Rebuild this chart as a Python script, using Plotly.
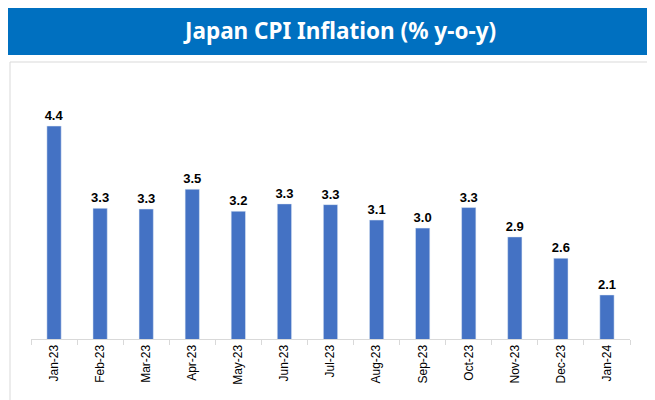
import plotly.graph_objects as go

months = ["Jan-23", "Feb-23", "Mar-23", "Apr-23", "May-23", "Jun-23", "Jul-23",
          "Aug-23", "Sep-23", "Oct-23", "Nov-23", "Dec-23", "Jan-24"]
cpi = [4.4, 3.28, 3.27, 3.54, 3.24, 3.34, 3.33, 3.12, 3.01, 3.29, 2.89, 2.60, 2.1]

# страница сдвигает рисунок на 8 px (отступ body), поэтому фигура чуть меньше окна
OFF = 8
W, H = 655 - OFF, 400 - OFF
ML, MR, MT, MB = 31 - OFF, 25, 82 - OFF, 61
pw, ph = W - ML - MR, H - MT - MB


def px_x(x):
    # экранный пиксель -> координата paper
    return (x - OFF - ML) / pw


def px_y(y):
    return (H - MB - (y - OFF)) / ph


fig = go.Figure()

fig.add_trace(go.Bar(
    x=months, y=cpi,
    marker_color="#4472C4",
    width=0.31,
    text=[f"{v:.1f}" for v in cpi],
    textposition="outside",
    constraintext="none",
    textfont=dict(family="Liberation Sans", size=13, color="#000000", weight="bold"),
    cliponaxis=False,
))

# синяя плашка с заголовком и рамка области графика
fig.add_shape(type="rect", xref="paper", yref="paper",
              x0=px_x(10), x1=px_x(652), y0=px_y(401), y1=px_y(62),
              line=dict(color="#d9d9d9", width=1), fillcolor="rgba(0,0,0,0)", layer="below")
fig.add_shape(type="rect", xref="paper", yref="paper",
              x0=px_x(8), x1=px_x(656), y0=px_y(55), y1=px_y(7),
              line=dict(width=0), fillcolor="#0070C0", layer="below")
fig.add_annotation(text="<b>Japan CPI Inflation (% y-o-y)</b>", xref="paper", yref="paper",
                   x=px_x(339), y=px_y(30), showarrow=False, yanchor="middle",
                   font=dict(family="Noto Sans", size=22.5, color="white"))

fig.update_layout(
    width=W, height=H,
    margin=dict(l=ML, r=MR, t=MT, b=MB),
    paper_bgcolor="white", plot_bgcolor="white",
    showlegend=False,
    bargap=0.69,
)
fig.update_xaxes(
    type="category", tickangle=-90, automargin=False,
    tickfont=dict(family="Liberation Sans", size=12, color="#000000"),
    showline=True, linecolor="#d9d9d9", linewidth=1,
    ticks="outside", tickson="boundaries", ticklen=5, tickcolor="#d9d9d9",
    showgrid=False,
)
fig.update_yaxes(range=[1.5, 5.0], visible=False, showgrid=False, automargin=False)

fig.write_html("out.html")
